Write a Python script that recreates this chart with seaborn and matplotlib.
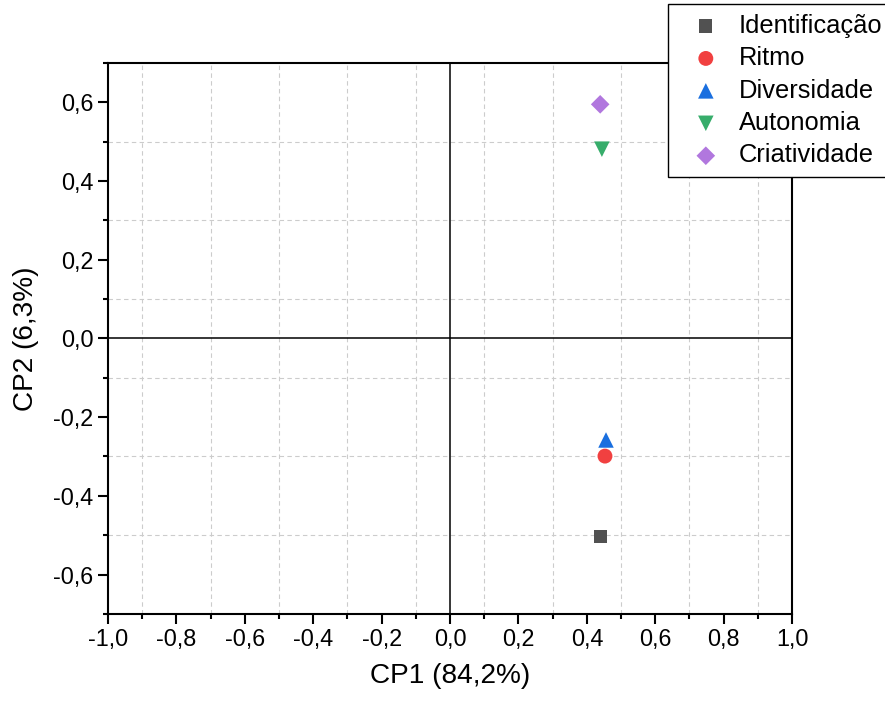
import matplotlib
matplotlib.use("Agg")
import matplotlib.pyplot as plt
import pandas as pd
import seaborn as sns
from matplotlib.ticker import MultipleLocator, FuncFormatter

# dados
variaveis = ["Identificação", "Ritmo", "Diversidade", "Autonomia", "Criatividade"]
cp1 = [0.441, 0.453, 0.456, 0.444, 0.439]
cp2 = [-0.503, -0.299, -0.258, 0.481, 0.595]
cores = ["#515151", "#F14040", "#1A6FDF", "#37AD6B", "#B177DE"]
marcadores = ["s", "o", "^", "v", "D"]
tamanhos = [90, 115, 125, 125, 90]

df = pd.DataFrame({"CP1": cp1, "CP2": cp2, "var": variaveis})

sns.set_theme(style="white")
plt.rcParams["font.family"] = ["Liberation Sans", "DejaVu Sans"]
plt.rcParams["text.color"] = "black"
plt.rcParams["axes.labelcolor"] = "black"
plt.rcParams["xtick.color"] = "black"
plt.rcParams["ytick.color"] = "black"

fig = plt.figure(figsize=(8.85, 7.04), dpi=100)
ax = fig.add_axes([0.122, 0.128, 0.773, 0.7825])

# grade nas posições menores (décimos ímpares)
for v in [-0.9, -0.7, -0.5, -0.3, -0.1, 0.1, 0.3, 0.5, 0.7, 0.9]:
    ax.axvline(v, color="#cccccc", lw=0.8, ls=(0, (4, 3)), zorder=0)
for v in [-0.5, -0.3, -0.1, 0.1, 0.3, 0.5]:
    ax.axhline(v, color="#cccccc", lw=0.8, ls=(0, (4, 3)), zorder=0)

ax.axhline(0, color="black", lw=1.1, zorder=1)
ax.axvline(0, color="black", lw=1.1, zorder=1)

for i, nome in enumerate(variaveis):
    sns.scatterplot(data=df[df["var"] == nome], x="CP1", y="CP2",
                    marker=marcadores[i], color=cores[i], s=tamanhos[i],
                    edgecolor="none", label=nome, ax=ax, zorder=3)

ax.set_xlim(-1.0, 1.0)
ax.set_ylim(-0.7, 0.7)
ax.xaxis.set_major_locator(MultipleLocator(0.2))
ax.xaxis.set_minor_locator(MultipleLocator(0.1))
ax.yaxis.set_major_locator(MultipleLocator(0.2))
ax.yaxis.set_minor_locator(MultipleLocator(0.1))
virgula = FuncFormatter(lambda v, p: f"{v:.1f}".replace(".", ",").replace("-0,0", "0,0"))
ax.xaxis.set_major_formatter(virgula)
ax.yaxis.set_major_formatter(virgula)
ax.tick_params(axis="both", which="major", direction="out", length=7, width=1.5,
               labelsize=16.8, color="black", bottom=True, left=True)
ax.tick_params(axis="both", which="minor", direction="out", length=3.5, width=1.5,
               color="black", bottom=True, left=True)

for s in ax.spines.values():
    s.set_color("black")
    s.set_linewidth(1.5)

ax.set_xlabel("CP1 (84,2%)", fontsize=20.2, labelpad=8)
ax.set_ylabel("CP2 (6,3%)", fontsize=20.2, labelpad=10)

leg = ax.legend(loc="upper left", bbox_to_anchor=(668 / 885, 1 - 4 / 704),
                bbox_transform=fig.transFigure, fontsize=18.4, frameon=True,
                fancybox=False, edgecolor="black", framealpha=1,
                handletextpad=0.2, labelspacing=0.33, borderpad=0.38,
                handlelength=2.2, borderaxespad=0)
leg.get_frame().set_linewidth(1.0)

fig.savefig("out.png", dpi=100)
plt.close()
